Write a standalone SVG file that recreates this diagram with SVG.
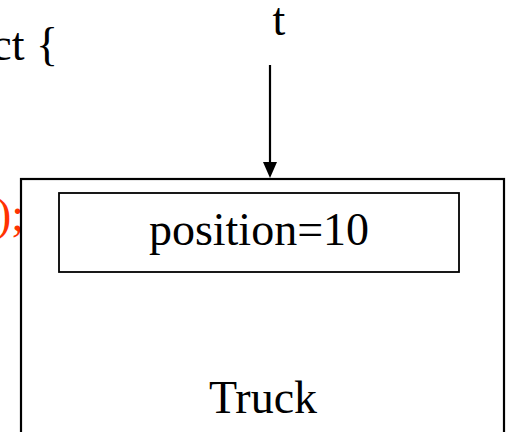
<svg xmlns="http://www.w3.org/2000/svg" width="506" height="432" viewBox="0 0 506 432">
<style>
text{font-family:"Liberation Serif","Times New Roman",serif;font-size:46px;fill:#000}
.red{fill:#FF3300}
.box{fill:#fff;stroke:#000}
</style>
<defs>
<marker id="ah" markerWidth="14" markerHeight="16" refX="7" refY="16" orient="auto" markerUnits="userSpaceOnUse" viewBox="0 0 14 16">
<path d="M0,0 L14,0 L7,16 Z" fill="#000"/>
</marker>
</defs>
<rect width="506" height="432" fill="#fff"/>
<text x="58" y="60" text-anchor="end">ct {</text>
<text class="red" x="24" y="230" text-anchor="end">);</text>
<text x="279" y="35" text-anchor="middle">t</text>
<g id="truck">
<rect class="box" x="21" y="179" width="483" height="270" stroke-width="2.2"/>
<text x="263" y="413" text-anchor="middle">Truck</text>
</g>
<g id="position">
<rect class="box" x="59" y="193" width="400" height="79" stroke-width="1.8"/>
<text x="259" y="245" text-anchor="middle">position=10</text>
</g>
<g id="connectors">
<line x1="270" y1="65" x2="270" y2="164" stroke="#000" stroke-width="2.2"/>
<path d="M263,162 L277,162 L270,178 Z" fill="#000"/>
</g>
</svg>
